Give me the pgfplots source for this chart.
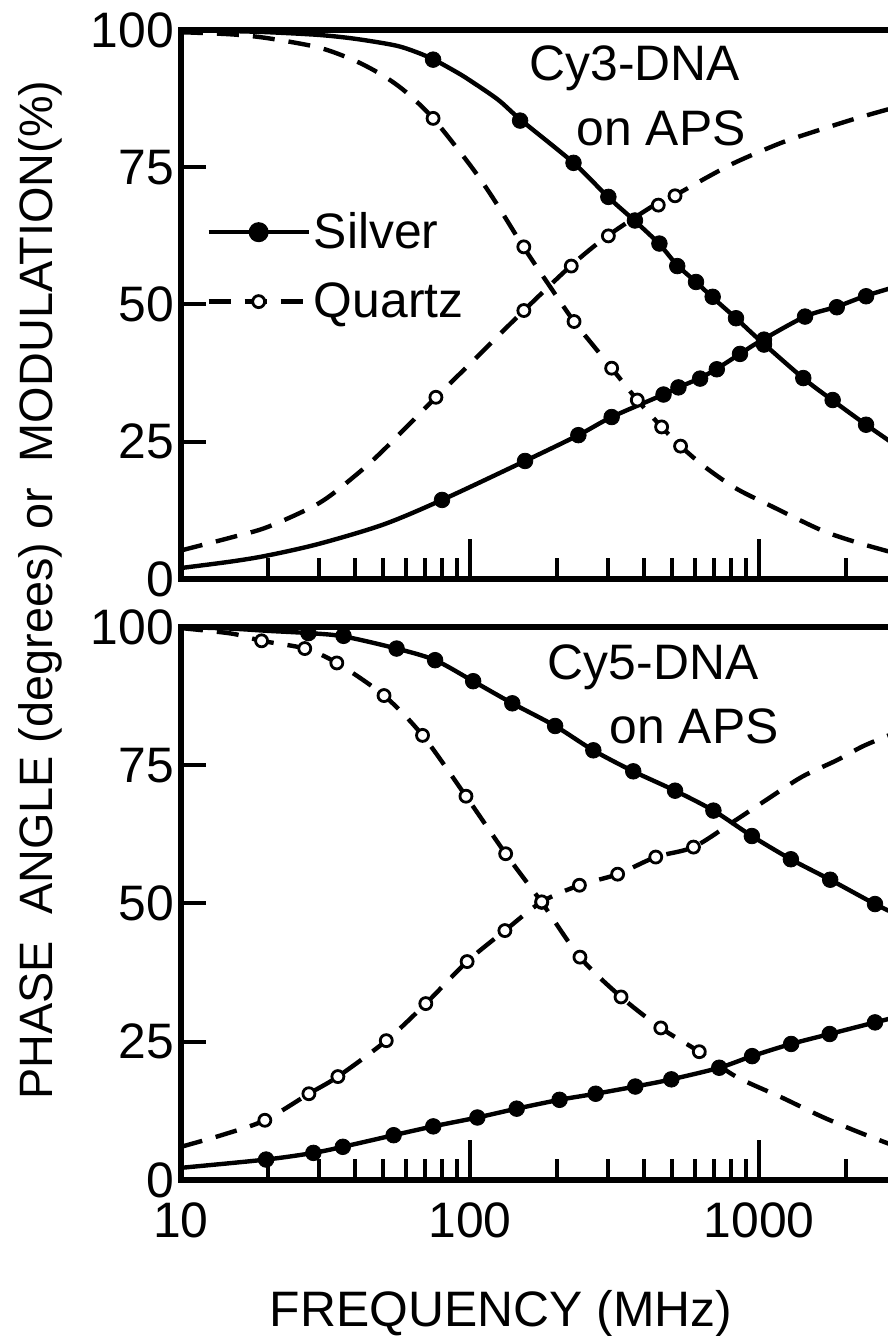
\documentclass[border=0pt]{standalone}
\usepackage{fontspec}
\setmainfont{Liberation Sans}
\usepackage{pgfplots}
\pgfplotsset{compat=1.18}

\newcommand{\lblfont}{\fontsize{25}{30}\selectfont}

\tikzset{
  fitline/.style={smooth, line width=2.2bp, black},
  fitdash/.style={smooth, line width=2.2bp, black, dash pattern=on 11bp off 7bp},
  silverpts/.style={only marks, mark=*, mark size=3.9bp,
    mark options={solid, fill=black, draw=black, line width=0.4bp}},
  quartzpts/.style={only marks, mark=*, mark size=3bp,
    mark options={solid, fill=white, draw=black, line width=1.4bp}},
}
% short inward ticks on the left frame at 25, 50 and 75
\newcommand{\leftticks}{%
  \pgfplotsinvokeforeach{25,50,75}{%
    \draw[line width=2bp, black] (axis cs:10,##1) -- (axis cs:12.2,##1);}}

\begin{document}
\begin{tikzpicture}
% the page ends before the frequency axis does
\useasboundingbox (0,0) rectangle (444bp,668bp);

% ---------------- Cy3-DNA ----------------
\begin{axis}[
  scale only axis, width=358bp, height=274.5bp,
  at={(90.5bp,378.5bp)}, anchor=south west,
  xmode=log, xmin=10, xmax=3000, ymin=0, ymax=100,
  axis line style={line width=2.8bp},
  xtick pos=bottom, ytick pos=left, tick align=inside,
  xtick={10,100,1000}, xticklabels={,,},
  minor xtick={20,30,40,50,60,70,80,90,200,300,400,500,600,700,800,900,2000},
  extra x ticks={100,1000}, extra x tick labels={},
  extra x tick style={major tick length=20bp},
  ytick={0,25,50,75,100}, yticklabels={0,25,50,75,100},
  major tick length=12bp, minor tick length=10.5bp,
  tick style={line width=2bp, black},
  ticklabel style={font=\lblfont},
  ylabel={PHASE\ \ ANGLE (degrees) or\ \ MODULATION(\%)},
  ylabel style={font=\fontsize{23.5}{28}\selectfont,
    at={(rel axis cs:-0.1969,-0.02)}, anchor=center},
  legend image code/.code={\draw[mark repeat=2,mark phase=2,#1]
    plot coordinates {(0bp,0bp) (25bp,0bp) (50bp,0bp)};},
  legend style={draw=none, fill=none, font=\lblfont,
    at={(0.035,0.6735)}, anchor=north west,
    inner sep=0pt, row sep=12.5bp, nodes={inner sep=1.5bp}},
  legend cell align=left,
]
\addlegendimage{line width=2.2bp, mark=*, mark size=3.9bp,
  mark options={solid, fill=black}}
\addlegendentry{Silver}
\addlegendimage{line width=2.2bp, dash pattern=on 11bp off 7bp, mark=*,
  mark size=3bp, mark options={solid, fill=white, line width=1.4bp}}
\addlegendentry{Quartz}

% silver: modulation
\addplot[fitline] coordinates {
  (10,100) (15,99.8) (20,99.6) (30,99.1) (40,98.4) (55,97.2) (65,96.0)
  (75,94.6) (90,92.3) (100,90.8) (125,87.3) (150,83.6) (228,75.8)
  (300,69.6) (372,65.2) (450,61.1) (520,57.2) (605,54.1) (690,51.3)
  (832,47.5) (1000,43.6) (1420,36.6) (1800,32.5) (2345,28.1) (3000,24.2)};
% silver: phase
\addplot[fitline] coordinates {
  (10,2.0) (15,3.2) (20,4.3) (30,6.4) (50,9.9) (80,14.4) (155,21.5)
  (237,26.2) (309,29.5) (467,33.6) (526,34.9) (625,36.6) (714,38.3)
  (859,41.0) (1000,43.2) (1442,47.8) (1857,49.6) (2345,51.6) (3000,53.3)};
% quartz: modulation
\addplot[fitdash] coordinates {
  (10,99.6) (15,99.2) (20,98.5) (30,96.8) (40,94.4) (50,91.7) (60,88.7)
  (74.5,83.9) (100,75.4) (120,69.4) (153,60.5) (190,53.1) (229,46.9)
  (270,42.2) (309,38.4) (379,32.6) (460,27.7) (535,24.2) (650,20.4)
  (832,16.5) (1100,13.3) (1641,8.9) (2200,6.6) (3000,4.6)};
% quartz: phase
\addplot[fitdash] coordinates {
  (10,5.2) (15,7.6) (20,9.5) (30,13.8) (40,18.8) (50,23.4)
  (76.2,33.1) (100,39.2) (153.5,48.9) (225,57.2) (301,62.6) (443,68.4)
  (508,69.8) (668,73.3) (837,76.0) (1200,79.5) (1641,81.9) (2200,84.0)
  (3000,86.0)};

\addplot[silverpts] coordinates {
  (74.5,94.6) (149,83.5) (228,75.8) (301,69.6) (372,65.3) (452,61.1)
  (521,57.0) (605,54.1) (691,51.4) (832,47.5) (1040,42.7) (1422,36.6)
  (1797,32.6) (2345,28.1)};
\addplot[silverpts] coordinates {
  (80,14.4) (155,21.5) (237,26.2) (309,29.5) (467,33.6) (526,34.9)
  (625,36.5) (714,38.2) (859,41.0) (1040,43.6) (1442,47.8) (1857,49.5)
  (2345,51.5)};
\addplot[quartzpts] coordinates {
  (74.5,83.9) (153.5,60.5) (229,46.9) (309,38.4) (379,32.6) (460,27.7)
  (535,24.2)};
\addplot[quartzpts] coordinates {
  (76.2,33.1) (153.5,48.9) (224,57.0) (301,62.5) (448,68.1) (512,69.8)};

\leftticks
\node[font=\lblfont] at (axis cs:372,93.1) {Cy3-DNA};
\node[font=\lblfont] at (axis cs:458,82.1) {on APS};
\end{axis}

% ---------------- Cy5-DNA ----------------
\begin{axis}[
  scale only axis, width=358bp, height=276.5bp,
  at={(90.5bp,78bp)}, anchor=south west,
  xmode=log, xmin=10, xmax=3000, ymin=0, ymax=100,
  axis line style={line width=2.8bp},
  xtick pos=bottom, ytick pos=left, tick align=inside,
  xtick={10,100,1000}, xticklabels={10,100,1000},
  minor xtick={20,30,40,50,60,70,80,90,200,300,400,500,600,700,800,900,2000},
  extra x ticks={100,1000}, extra x tick labels={},
  extra x tick style={major tick length=20bp},
  ytick={0,25,50,75,100}, yticklabels={0,25,50,75,100},
  major tick length=12bp, minor tick length=10.5bp,
  tick style={line width=2bp, black},
  ticklabel style={font=\lblfont},
  xticklabel style={yshift=-8bp},
  xlabel={FREQUENCY (MHz)},
  xlabel style={font=\lblfont,
    at={(rel axis cs:0.4470,0)}, anchor=center, yshift=-67bp},
]
% silver: modulation
\addplot[fitline] coordinates {
  (10,100) (15,99.7) (20,99.3) (27.6,98.9) (36.5,98.3) (55.7,96.1)
  (75.7,94.0) (102.5,90.2) (140,86.2) (197,82.1) (267,77.7) (367,73.9)
  (512,70.4) (695,66.8) (944,62.2) (1288,58.0) (1762,54.3) (2518,49.9)
  (3000,48.0)};
% silver: phase
\addplot[fitline] coordinates {
  (10,2.2) (19.7,3.7) (28.7,4.9) (36.3,6.0) (54.4,8.1) (74.6,9.7)
  (106,11.3) (145,12.9) (204,14.5) (272,15.6) (373,16.9) (497,18.2)
  (728,20.3) (946,22.4) (1291,24.6) (1755,26.4) (2518,28.5) (3000,29.5)};
% quartz: modulation
\addplot[fitdash] coordinates {
  (10,99.8) (15,98.8) (19,97.5) (26.8,96.1) (34.6,93.5) (50.4,87.6)
  (68.5,80.4) (96.8,69.4) (132.8,59.0) (177,50.2) (240,40.3) (333,33.1)
  (457,27.5) (621,23.2) (832,18.7) (1200,14.9) (1641,11.5) (2200,8.7)
  (3000,6.0)};
% quartz: phase
\addplot[fitdash] coordinates {
  (10,6.0) (14,8.2) (19.5,10.8) (27.7,15.6) (34.9,18.7) (51.3,25.2)
  (70.3,31.9) (97.7,39.5) (132,45.1) (177,50.3) (239,53.3) (324,55.3)
  (439,58.4) (593,60.2) (815,64.8) (1064,68.8) (1406,72.9) (1857,75.9)
  (2300,78.5) (3000,81.0)};

\addplot[silverpts] coordinates {
  (27.6,98.9) (36.5,98.4) (55.7,96.1) (75.7,94.0) (102.5,90.2) (140,86.2)
  (197,82.1) (267,77.7) (367,73.9) (512,70.4) (695,66.8) (944,62.2)
  (1288,58.0) (1762,54.3) (2518,49.9)};
\addplot[silverpts] coordinates {
  (19.7,3.7) (28.7,4.9) (36.3,6.0) (54.4,8.1) (74.6,9.7) (106,11.3)
  (145,12.9) (204,14.5) (272,15.6) (373,16.9) (497,18.2) (728,20.3)
  (946,22.4) (1291,24.6) (1755,26.4) (2518,28.5)};
\addplot[quartzpts] coordinates {
  (19,97.5) (26.8,96.1) (34.6,93.5) (50.4,87.6) (68.5,80.4) (96.8,69.4)
  (132.8,59.0) (177,50.2) (240,40.3) (333,33.1) (457,27.5) (621,23.2)};
\addplot[quartzpts] coordinates {
  (19.5,10.8) (27.7,15.6) (34.9,18.7) (51.3,25.2) (70.3,31.9) (97.7,39.5)
  (132,45.1) (177,50.3) (239,53.3) (324,55.3) (439,58.4) (593,60.2)};

\leftticks
\node[font=\lblfont] at (axis cs:430,92.8) {Cy5-DNA};
\node[font=\lblfont] at (axis cs:596,82.1) {on APS};
\end{axis}
\end{tikzpicture}
\end{document}
